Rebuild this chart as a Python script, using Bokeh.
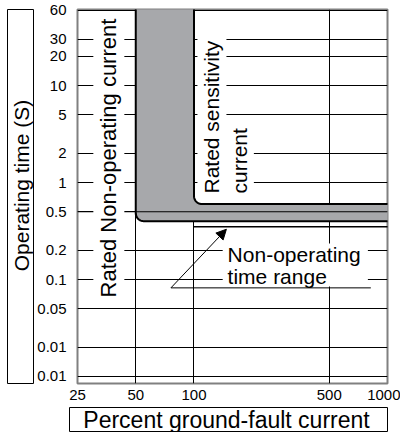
import math
import numpy as np
from bokeh.plotting import figure
from bokeh.layouts import column, row
from bokeh.models import (FixedTicker, Label, Arrow, NormalHead, Range1d)
from bokeh.embed import file_html
from bokeh.resources import INLINE

# ---------------- data ----------------
x_ticks = [25, 50, 100, 500, 1000]
x_tick_labels = ["25", "50", "100", "500", "1000"]
x_grid_ticks = [50, 100, 500]
y_ticks = [60, 30, 20, 10, 5, 2, 1, 0.5, 0.2, 0.1, 0.05, 0.02, 0.01]
y_tick_labels = ["60", "30", "20", "10", "5", "2", "1", "0.5", "0.2", "0.1", "0.05", "0.01", "0.01"]

non_operating_current = 50      # % (rated non-operating current)
sensitivity_current = 100       # % (rated sensitivity current)
band_low = 0.4                  # s, lower edge of operating band
band_high = 0.6                 # s, upper edge of operating band
non_operating_time = 0.35       # s, non-operating time line

x_min, x_max = 25, 1000
y_min, y_max = 0.00846, 61

# annotation anchors (data units)
arrow_start = (76, 0.082)
arrow_end = (147, 0.33)
leader_end_x = 820
note_box = (140.7, 791.8, 0.0847, 0.2352)   # left, right, bottom, top
note_line1 = (149.2, 0.1812)
note_line2 = (149.2, 0.1074)

FONT = "Liberation Sans"

# main figure geometry
W, H = 366, 406
BL, BR, BT, BB = 37, 13, 9, 23
fw = W - BL - BR
fh = H - BT - BB
kx = fw / math.log10(x_max / x_min)   # px per decade
ky = fh / math.log10(y_max / y_min)
R_PX = 8


def corner(xc, yc, n=14):
    cu = math.log10(xc) + R_PX / kx
    cv = math.log10(yc) + R_PX / ky
    th = np.linspace(np.pi, 1.5 * np.pi, n)
    xs = 10 ** (cu + R_PX / kx * np.cos(th))
    ys = 10 ** (cv + R_PX / ky * np.sin(th))
    return list(xs), list(ys)


p = figure(width=W, height=H, x_axis_type="log", y_axis_type="log",
           x_range=Range1d(x_min, x_max), y_range=Range1d(y_min, y_max),
           output_backend="svg", toolbar_location=None,
           min_border_left=BL, min_border_right=BR, min_border_top=BT, min_border_bottom=BB)
p.background_fill_color = "white"
p.border_fill_color = "white"
p.outline_line_color = "#808080"
p.outline_line_width = 2

# axes
p.xaxis.ticker = FixedTicker(ticks=x_ticks)
p.yaxis.ticker = FixedTicker(ticks=y_ticks)
p.xaxis.major_label_overrides = dict(zip(x_ticks, x_tick_labels))
p.yaxis.major_label_overrides = dict(zip(y_ticks, y_tick_labels))
for ax in (p.xaxis, p.yaxis):
    ax.axis_line_color = None
    ax.major_tick_line_color = None
    ax.minor_tick_line_color = None
    ax.major_label_text_font = FONT
    ax.major_label_text_font_size = "15px"
    ax.major_label_text_color = "black"
p.yaxis.major_label_standoff = 5
p.xaxis.major_label_standoff = 0

# grid
p.xgrid.ticker = FixedTicker(ticks=x_grid_ticks)
p.ygrid.ticker = FixedTicker(ticks=y_ticks)
for g in (p.xgrid, p.ygrid):
    g.grid_line_color = "black"
    g.grid_line_width = 1
    g.grid_line_alpha = 1

# operating band (L-shape)
top = y_max * 3
right = x_max * 3
ox, oy = corner(non_operating_current, band_low)
ix, iy = corner(sensitivity_current, band_high)
outer_x = [non_operating_current] + ox + [right]
outer_y = [top] + oy + [band_low]
inner_x = [sensitivity_current] + ix + [right]
inner_y = [top] + iy + [band_high]
patch_x = outer_x + inner_x[::-1]
patch_y = outer_y + inner_y[::-1]
p.patch(patch_x, patch_y, fill_color="#a7a8ab", line_color=None)

# grid lines that show through the horizontal band
for t in y_ticks:
    if band_low < t < band_high:
        p.line([x_min, x_max], [t, t], line_color="black", line_width=1)

p.line(outer_x, outer_y, line_color="black", line_width=2)
p.line(inner_x, inner_y, line_color="black", line_width=2)

# non-operating time line
p.line([sensitivity_current, right], [non_operating_time, non_operating_time],
       line_color="black", line_width=1.5)

# white box behind the note text
p.quad(left=[note_box[0]], right=[note_box[1]], bottom=[note_box[2]], top=[note_box[3]],
       fill_color="white", line_color=None)

# leader line + arrow
p.line([arrow_start[0], leader_end_x], [arrow_start[1], arrow_start[1]],
       line_color="black", line_width=1)
p.add_layout(Arrow(end=NormalHead(size=10, fill_color="black", line_color="black"),
                   x_start=arrow_start[0], y_start=arrow_start[1],
                   x_end=arrow_end[0], y_end=arrow_end[1],
                   line_color="black", line_width=1))

# text labels
common = dict(text_font=FONT, text_color="black")
p.add_layout(Label(x=36.3, y=0.0608, text="Rated Non-operating current", angle=90,
                   angle_units="deg", text_align="left", text_baseline="middle",
                   text_font_size="22px", padding=3, background_fill_color="white", **common))
p.add_layout(Label(x=123.8, y=0.718, text="Rated sensitivity", angle=90,
                   angle_units="deg", text_align="left", text_baseline="middle",
                   text_font_size="21px", padding=3, background_fill_color="white", **common))
p.add_layout(Label(x=171.6, y=0.718, text="current", angle=90,
                   angle_units="deg", text_align="left", text_baseline="middle",
                   text_font_size="21px", padding=3, background_fill_color="white", **common))
p.add_layout(Label(x=note_line1[0], y=note_line1[1], text="Non-operating",
                   text_align="left", text_baseline="alphabetic", text_font_size="21px", **common))
p.add_layout(Label(x=note_line2[0], y=note_line2[1], text="time range",
                   text_align="left", text_baseline="alphabetic", text_font_size="21px", **common))


def box_fig(width, height, borders, text, tx, ty, angle, size):
    bl, br, bt, bb = borders
    f = figure(width=width, height=height,
               x_range=Range1d(0, width - bl - br), y_range=Range1d(0, height - bt - bb),
               x_axis_location=None, y_axis_location=None,
               output_backend="svg", toolbar_location=None,
               min_border_left=bl, min_border_right=br, min_border_top=bt, min_border_bottom=bb)
    f.grid.visible = False
    f.outline_line_color = "black"
    f.outline_line_width = 1
    f.background_fill_color = "white"
    f.border_fill_color = "white"
    f.add_layout(Label(x=tx, y=ty, text=text, angle=angle, angle_units="deg",
                       text_align="center", text_baseline="middle",
                       text_font=FONT, text_font_size=size, text_color="black"))
    return f


left_fig = box_fig(34, H, (7, 1, 9, 23), "Operating time (S)", 13.5, 198, 90, "21px")
bottom_fig = box_fig(400, 26, (69, 13, 1, 1), "Percent ground-fault current", 157, 12, 0, "23px")

layout = column(row(left_fig, p), bottom_fig)
open("out.html", "w").write(file_html(layout, INLINE))
